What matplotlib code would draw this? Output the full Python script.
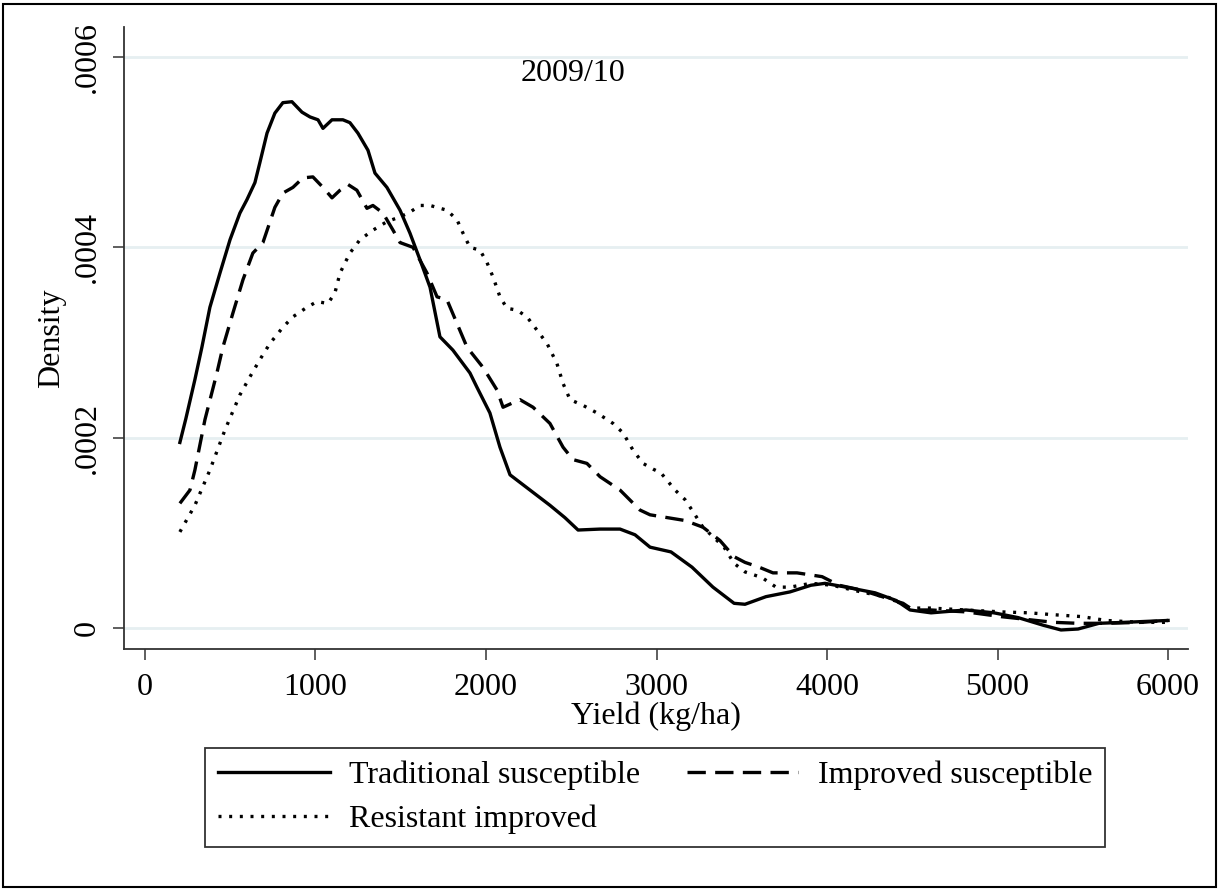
import matplotlib
matplotlib.use('Agg')
import matplotlib.pyplot as plt
from matplotlib.patches import Rectangle

plt.rcParams['font.family'] = ['Liberation Serif', 'DejaVu Serif']

# kernel density curves (x = yield kg/ha, y = density * 1e4)
trad_x = [205, 240, 293, 334, 381, 440, 499, 557, 598, 645, 674, 716, 762, 809, 862, 921, 968, 1015,
          1044, 1097, 1161, 1202, 1249, 1308, 1349, 1419, 1496, 1554, 1613, 1672, 1730, 1806, 1906,
          1947, 2023, 2082, 2141, 2258, 2375, 2463, 2540, 2669, 2786, 2874, 2962, 3085, 3208, 3331,
          3455, 3519, 3642, 3783, 3906, 3988, 4111, 4282, 4405, 4487, 4610, 4815, 4979, 5120, 5267,
          5372, 5472, 5595, 5742, 6000]
trad_y = [1.95, 2.20, 2.61, 2.95, 3.37, 3.73, 4.08, 4.36, 4.50, 4.68, 4.89, 5.20, 5.41, 5.52, 5.53,
          5.42, 5.37, 5.34, 5.25, 5.34, 5.34, 5.31, 5.20, 5.02, 4.78, 4.63, 4.39, 4.15, 3.87, 3.58,
          3.06, 2.92, 2.68, 2.53, 2.26, 1.90, 1.61, 1.45, 1.29, 1.16, 1.03, 1.04, 1.04, 0.98, 0.85,
          0.80, 0.64, 0.43, 0.26, 0.25, 0.33, 0.38, 0.45, 0.47, 0.43, 0.37, 0.29, 0.19, 0.16, 0.19,
          0.16, 0.11, 0.03, -0.02, -0.01, 0.05, 0.06, 0.08]

impr_x = [205, 264, 293, 352, 422, 457, 516, 575, 633, 692, 762, 809, 868, 927, 985, 1044, 1097,
          1144, 1191, 1243, 1302, 1337, 1396, 1455, 1496, 1572, 1654, 1713, 1771, 1830, 1889, 1982,
          2065, 2100, 2199, 2276, 2375, 2452, 2510, 2592, 2669, 2786, 2903, 2962, 3167, 3272, 3372,
          3455, 3519, 3601, 3683, 3824, 3971, 4070, 4199, 4323, 4446, 4504, 4610, 4815, 5021, 5226,
          5331, 5472, 5636, 5842, 6000]
impr_y = [1.31, 1.45, 1.66, 2.19, 2.68, 2.95, 3.31, 3.66, 3.94, 4.05, 4.42, 4.57, 4.63, 4.73, 4.74,
          4.63, 4.52, 4.60, 4.66, 4.60, 4.41, 4.44, 4.36, 4.18, 4.05, 4.00, 3.73, 3.48, 3.45, 3.20,
          2.95, 2.74, 2.50, 2.32, 2.40, 2.32, 2.15, 1.90, 1.77, 1.73, 1.59, 1.45, 1.24, 1.19, 1.13,
          1.06, 0.92, 0.75, 0.69, 0.64, 0.58, 0.58, 0.54, 0.45, 0.40, 0.33, 0.26, 0.19, 0.19, 0.17,
          0.12, 0.08, 0.06, 0.05, 0.05, 0.06, 0.08]

resi_x = [205, 293, 381, 469, 557, 616, 674, 733, 809, 868, 950, 1009, 1073, 1114, 1144, 1202,
          1261, 1337, 1419, 1496, 1554, 1613, 1672, 1771, 1830, 1865, 1906, 1965, 2006, 2041, 2082,
          2123, 2182, 2240, 2299, 2358, 2416, 2452, 2493, 2569, 2651, 2745, 2804, 2862, 2921, 2980,
          3026, 3109, 3167, 3208, 3272, 3331, 3396, 3455, 3519, 3619, 3701, 3783, 3906, 4029, 4199,
          4364, 4487, 4610, 4815, 5021, 5185, 5331, 5496, 5636, 5842, 6000]
resi_y = [1.01, 1.29, 1.66, 2.08, 2.45, 2.64, 2.82, 2.99, 3.16, 3.27, 3.37, 3.43, 3.41, 3.52, 3.73,
          3.94, 4.08, 4.18, 4.27, 4.32, 4.37, 4.44, 4.44, 4.39, 4.29, 4.15, 4.00, 3.97, 3.84, 3.69,
          3.48, 3.36, 3.34, 3.27, 3.13, 2.99, 2.78, 2.57, 2.40, 2.34, 2.26, 2.15, 2.05, 1.87, 1.73,
          1.67, 1.63, 1.45, 1.35, 1.24, 1.06, 0.96, 0.85, 0.68, 0.59, 0.53, 0.43, 0.43, 0.47, 0.45,
          0.38, 0.32, 0.21, 0.21, 0.19, 0.17, 0.16, 0.14, 0.12, 0.08, 0.06, 0.06]

labels = ['Traditional susceptible', 'Improved susceptible', 'Resistant improved']
xticks = [0, 1000, 2000, 3000, 4000, 5000, 6000]
yticks = [0, 0.0002, 0.0004, 0.0006]
ytick_labels = ['0', '.0002', '.0004', '.0006']

fs = 23
fig = plt.figure(figsize=(12.2, 8.91), dpi=100)
ax = fig.add_axes([0.1016, 0.2716, 0.8722, 0.6981])

l1, = ax.plot(trad_x, [v * 1e-4 for v in trad_y], color='black', lw=2.4, solid_joinstyle='round')
l2, = ax.plot(impr_x, [v * 1e-4 for v in impr_y], color='black', lw=2.4, dashes=(5.5, 2.8))
l3, = ax.plot(resi_x, [v * 1e-4 for v in resi_y], color='black', lw=2.4, dashes=(0.9, 2.3))

ax.set_xlim(-123, 6117)
ax.set_ylim(-0.000022, 0.0006315)
ax.set_xticks(xticks)
ax.set_yticks(yticks)
ax.set_yticklabels(ytick_labels, rotation=90, va='center')
ax.tick_params(axis='both', direction='out', length=8, width=1.1, labelsize=fs, color='#333333')
ax.tick_params(axis='y', pad=8)
ax.tick_params(axis='x', pad=9)
for s in ['top', 'right']:
    ax.spines[s].set_visible(False)
for s in ['left', 'bottom']:
    ax.spines[s].set_linewidth(1.3)
    ax.spines[s].set_color('#333333')
ax.grid(axis='y', color='#e6eff1', lw=2)
ax.set_axisbelow(True)

ax.set_xlabel('Yield (kg/ha)', fontsize=fs, labelpad=0)
ax.set_ylabel('Density', fontsize=fs, labelpad=5)
fig.text(0.4697, 0.918, '2009/10', fontsize=fs, ha='center', va='center')

leg = fig.legend([l1, l3, l2], [labels[0], labels[2], labels[1]], ncol=2, loc='center',
                 bbox_to_anchor=(0.537, 0.105), fontsize=fs, frameon=True, fancybox=False,
                 edgecolor='#333333', framealpha=1, handlelength=3.5, handletextpad=0.6,
                 columnspacing=1.45, borderpad=0.4, labelspacing=0.45)
leg.get_frame().set_linewidth(1.3)

fig.patches.append(Rectangle((0.0025, 0.0045), 0.994, 0.991, transform=fig.transFigure,
                             fill=False, lw=1.5, edgecolor='black'))

fig.savefig('out.png', dpi=100)
